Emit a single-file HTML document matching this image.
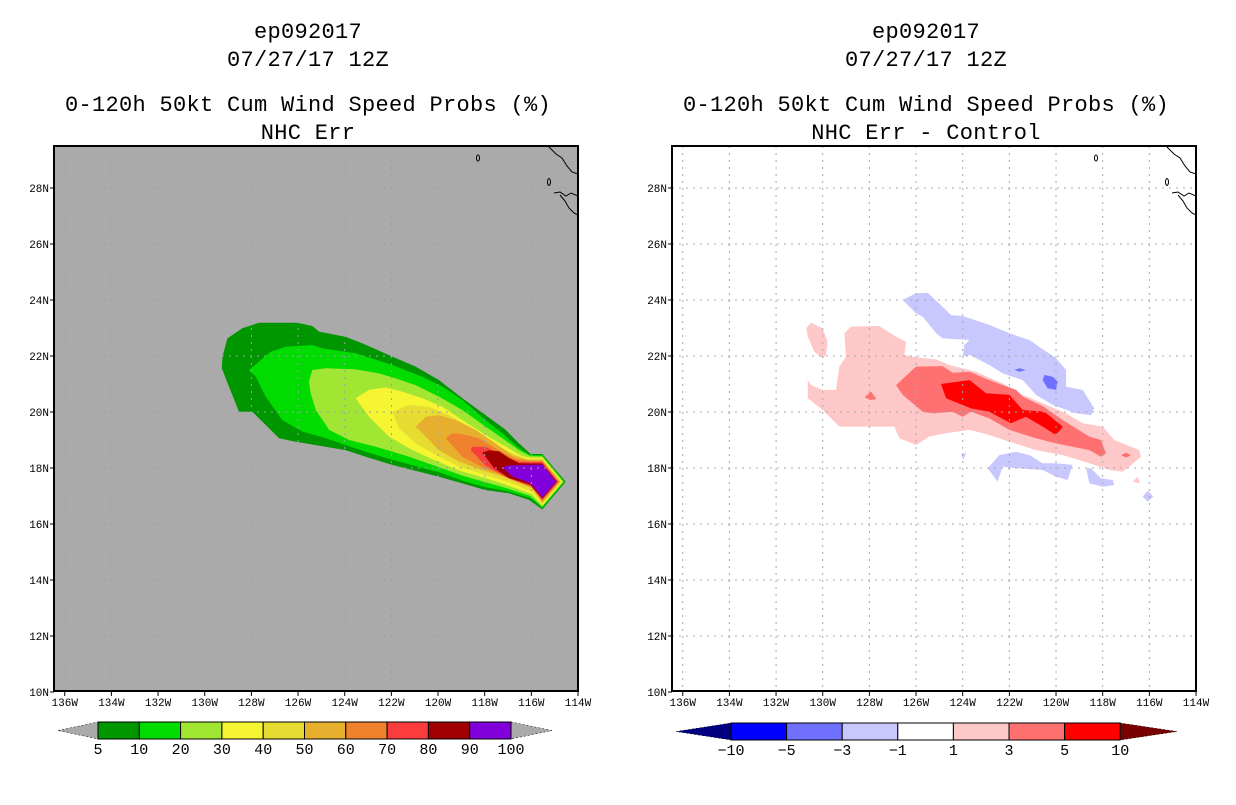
<!DOCTYPE html>
<html><head><meta charset="utf-8"><style>
body{margin:0;background:#fff;}
svg text{font-family:"Liberation Mono",monospace;}
</style></head><body>
<svg id="s" width="1236" height="800" viewBox="0 0 1236 800" xmlns="http://www.w3.org/2000/svg"></svg>
<script>
// ---- data ----
const lonTicks=[136,134,132,130,128,126,124,122,120,118,116,114];
const latTicks=[10,12,14,16,18,20,22,24,26,28];
const probLevels=[5,10,20,30,40,50,60,70,80,90,100];
const probColors=["#009600","#00dc00","#a0e632","#f5f532","#e6dc32","#e6af2d","#f0822d","#fa3c3c","#a00000","#8200dc"];
const diffLevels=[-10,-5,-3,-1,1,3,5,10];
const diffColors=["#000080","#0000ff","#7070ff","#c8c8ff","#ffffff","#ffc8c8","#ff7070","#ff0000","#780000"];
const p5=[[129.24,21.98],[129.03,22.63],[128.39,22.99],[127.67,23.19],[126.03,23.19],[125.39,23.07],[125.1,22.87],[123.96,22.69],[123.24,22.45],[121.96,21.98],[120.96,21.62],[119.96,21.14],[118.96,20.49],[117.96,19.89],[117.1,19.36],[116.53,18.88],[116.03,18.5],[115.53,18.5],[114.53,17.51],[115.53,16.52],[116.1,16.86],[116.96,17.1],[117.96,17.21],[118.96,17.45],[119.96,17.69],[121.96,18.11],[123.1,18.4],[123.96,18.64],[126.1,18.94],[126.81,19.06],[127.96,20.01],[128.53,20.01],[128.96,20.9],[129.27,21.56]];
const p10=[[128.1,21.5],[127.17,22.15],[126.53,22.33],[125.39,22.39],[124.96,22.27],[123.53,22.1],[121.96,21.68],[120.67,21.26],[119.81,20.9],[118.96,20.43],[117.96,19.71],[117.24,19.24],[116.6,18.76],[116.05,18.46],[115.53,18.46],[114.58,17.51],[115.53,16.57],[116.03,16.93],[117.1,17.19],[117.96,17.31],[118.96,17.55],[119.96,17.85],[121.96,18.29],[123.1,18.58],[123.96,18.82],[124.81,19.06],[125.81,19.3],[126.67,19.71],[127.39,20.55],[127.81,21.26]];
const p20=[[125.53,21.08],[125.39,21.5],[124.81,21.56],[123.53,21.52],[122.53,21.38],[121.81,21.2],[120.96,20.96],[119.96,20.55],[118.96,20.07],[117.96,19.48],[117.24,19.06],[116.53,18.64],[116.03,18.42],[115.53,18.42],[114.62,17.51],[115.53,16.62],[116.03,17.0],[117.1,17.29],[117.96,17.49],[118.96,17.73],[119.96,18.03],[121.24,18.4],[122.67,18.76],[123.81,19.0],[124.67,19.36],[125.24,20.07],[125.46,20.67]];
const p30=[[123.53,20.49],[122.96,20.79],[122.24,20.88],[121.53,20.73],[120.67,20.49],[119.81,20.19],[118.96,19.71],[117.96,19.18],[117.1,18.76],[116.39,18.42],[116.03,18.37],[115.53,18.37],[114.67,17.51],[115.53,16.66],[115.96,17.06],[117.1,17.41],[118.1,17.67],[119.1,17.91],[119.96,18.21],[121.1,18.64],[122.1,19.12],[122.96,19.83]];
const p40=[[121.96,20.01],[121.24,20.25],[120.39,20.19],[119.53,19.89],[118.67,19.48],[117.81,19.0],[116.96,18.58],[116.24,18.33],[115.53,18.33],[114.71,17.51],[115.53,16.71],[115.96,17.16],[117.1,17.53],[118.1,17.79],[119.1,18.05],[119.96,18.4],[120.96,18.88],[121.67,19.42]];
const p50=[[120.96,19.48],[120.53,19.83],[119.96,19.89],[119.24,19.71],[118.39,19.36],[117.53,18.88],[116.81,18.46],[116.17,18.29],[115.53,18.29],[114.76,17.51],[115.53,16.76],[115.96,17.27],[117.1,17.66],[118.1,17.93],[119.1,18.23],[119.96,18.64]];
const p60=[[119.67,19.06],[119.39,19.24],[118.96,19.21],[118.24,19.06],[117.39,18.64],[116.67,18.32],[116.1,18.25],[115.53,18.25],[114.81,17.51],[115.53,16.81],[116.03,17.38],[117.1,17.71],[118.1,18.03],[118.96,18.4]];
const p70=[[118.6,18.64],[118.53,18.76],[117.96,18.76],[117.24,18.46],[116.53,18.22],[115.53,18.21],[114.85,17.51],[115.53,16.86],[116.03,17.35],[117.0,17.64],[117.96,18.08]];
const p80=[[118.1,18.55],[117.81,18.63],[117.39,18.6],[116.96,18.36],[116.53,18.17],[115.53,18.16],[114.9,17.51],[115.53,16.9],[116.03,17.4],[116.95,17.64],[117.6,18.0]];
const p90=[[117.24,18.02],[116.9,18.1],[115.53,18.12],[114.94,17.51],[115.53,16.95],[116.03,17.45],[116.81,17.7]];
const probPolys=[p5,p10,p20,p30,p40,p50,p60,p70,p80,p90];
const dPink=[[130.64,21.14],[130.5,20.96],[130,20.79],[129.43,20.79],[129.29,21.62],[129,21.98],[129.07,22.81],[128.79,23.05],[127.57,23.07],[126.86,22.69],[126.43,22.51],[126.5,22.04],[126,21.95],[125.14,21.88],[124.57,21.68],[123.43,21.44],[122.29,21.02],[121.43,20.61],[120.57,20.31],[119.57,19.95],[118.86,19.6],[118,19.48],[117.5,19],[116.43,18.64],[116.36,18.4],[116.86,18.05],[117.14,17.87],[117.71,17.93],[118.57,18.17],[119.71,18.46],[120.86,18.64],[122,18.94],[122.86,19.18],[123.71,19.36],[124.71,19.24],[125.43,19.12],[126,18.82],[126.71,19.06],[126.93,19.48],[128.57,19.48],[129.29,19.48],[129.71,19.83],[130,20.07],[130.64,20.49]];
const dPinkB=[[130.71,22.99],[130.5,23.19],[130,22.99],[129.79,22.51],[129.86,22.04],[130,21.92],[130.36,22.15],[130.64,22.69]];
const dPinkC=[[116.71,17.51],[116.5,17.69],[116.4,17.45]];
const dMid=[[126.86,20.96],[126,21.62],[124.86,21.64],[124.43,21.4],[123.71,21.44],[122.86,21.14],[121.71,20.79],[121.43,20.55],[120.57,20.21],[119.71,19.71],[118.57,19.12],[118.07,19],[117.86,18.52],[118.07,18.4],[118.57,18.64],[120,18.88],[120.86,19.06],[122,19.36],[122.86,19.77],[123.64,20.01],[124,19.83],[124.43,20.01],[125.29,19.95],[125.71,20.01],[126.57,20.61]];
const dMidB=[[128.21,20.52],[127.93,20.73],[127.69,20.46],[127.93,20.43]];
const dMidC=[[117.21,18.46],[117,18.55],[116.79,18.46],[117,18.37]];
const dRed=[[124.93,21],[123.71,21.14],[123,20.67],[122,20.61],[121.43,20.07],[120.5,20.01],[119.71,19.48],[120,19.18],[120.57,19.48],[121.29,19.83],[121.93,19.6],[122.86,20.01],[123.64,20.13],[124,20.25],[124.71,20.49]];
const dBlue1=[[126.57,24],[126,24.24],[125.5,24.26],[124.71,23.64],[124.5,23.46],[124,23.43],[122.86,23.11],[122,22.81],[121.14,22.57],[120,21.92],[119.57,21.5],[119.57,20.9],[118.86,20.79],[118.36,20.13],[118.5,19.89],[119.14,19.95],[120.14,20.25],[120.86,20.61],[121.43,21.14],[122.29,21.38],[122.86,21.68],[123.29,21.86],[123.71,22.04],[124,21.98],[123.93,22.39],[123.71,22.57],[124.86,22.63],[125.14,22.81],[125.71,23.4],[126,23.52]];
const dBlue2=[[122.93,17.99],[122.43,18.46],[121.71,18.58],[121.14,18.46],[120.57,18.17],[120,18.17],[119.29,18.11],[119.5,17.57],[120,17.69],[120.57,17.93],[121.71,17.99],[122.29,18.05],[122.5,17.51]];
const dBlue3=[[118.71,17.99],[118.5,17.99],[118.07,17.63],[117.57,17.57],[117.5,17.39],[118,17.33],[118.57,17.45]];
const dBlue4=[[124.07,18.52],[123.86,18.52],[123.97,18.29]];
const dBlue5=[[116.29,16.98],[116.07,17.19],[115.83,16.98],[116.07,16.8]];
const dDark1=[[120.57,21.14],[120.5,21.32],[120.14,21.26],[119.93,21.08],[120,20.79],[120.36,20.85]];
const dDark2=[[121.79,21.5],[121.57,21.56],[121.29,21.5],[121.57,21.44]];
const diffPolys=[[dPink,5],[dPinkB,5],[dPinkC,5],[dMid,6],[dMidB,6],[dMidC,6],[dRed,7],[dBlue1,3],[dBlue2,3],[dBlue3,3],[dBlue4,3],[dBlue5,3],[dDark1,2],[dDark2,2]];

// ---- drawing ----
const S=document.getElementById('s');const NS="http://www.w3.org/2000/svg";
function mk(t,a,p){const e=document.createElementNS(NS,t);for(const k in a)e.setAttribute(k,a[k]);(p||S).appendChild(e);return e;}
const L=54,R=578,T=146,B=691;
function xs(lon,off){return off+578-(lon-114)*23.33;}
function ys(lat){return 412-(lat-20)*28;}
function panel(off,bg,name,t4,polyDraw,gridCol){
  const g=mk('g',{});
  
  
  const cx=off+L+(R-L)/2-8;
  const titles=["ep092017","07/27/17 12Z","0-120h 50kt Cum Wind Speed Probs (%)",t4];
  const ty=[38,66,111,139];
  titles.forEach((t,i)=>{const e=mk('text',{x:cx,y:ty[i],'text-anchor':'middle','font-size':22,'letter-spacing':0.3,fill:'#000'},g);e.textContent=t;
    
    });
  mk('rect',{x:off+L,y:T,width:R-L,height:B-T,fill:bg},g);
  const clip=mk('clipPath',{id:'c'+off},g);mk('rect',{x:off+L,y:T,width:R-L,height:B-T},clip);
  const pg=mk('g',{'clip-path':'url(#c'+off+')'},g);
  polyDraw(pg,off);
  lonTicks.forEach(l=>{const x=xs(l,off);if(x>off+L+1&&x<off+R-1)mk('line',{x1:x,x2:x,y1:T,y2:B,stroke:gridCol,'stroke-width':1,'stroke-dasharray':'2,5'},pg);});
  latTicks.forEach(l=>{const y=ys(l);if(y>T+1&&y<B-1)mk('line',{x1:off+L,x2:off+R,y1:y,y2:y,stroke:gridCol,'stroke-width':1,'stroke-dasharray':'2,5'},pg);});
  const cl=[[[off+549,147],[off+556,154],[off+562,158],[off+567,166],[off+572,172],[off+578,174]],[[off+554,193],[off+560,192],[off+566,196],[off+571,193],[off+578,196]],[[off+560,195],[off+565,201],[off+569,208],[off+574,213],[off+578,215]]];
  cl.forEach(c=>{const e=mk('polyline',{points:c.map(p=>p.join(',')).join(' '),fill:'none',stroke:'#000','stroke-width':1},pg);
    
    });
  mk('ellipse',{cx:off+478,cy:158,rx:1.5,ry:3,fill:'none',stroke:'#000','stroke-width':1},pg);
  mk('ellipse',{cx:off+549,cy:182,rx:1.5,ry:3.5,fill:'none',stroke:'#000','stroke-width':1},pg);
  mk('rect',{x:off+L,y:T,width:R-L,height:B-T,fill:'none',stroke:'#000','stroke-width':2},g);
  lonTicks.forEach(l=>{const x=xs(l,off);mk('line',{x1:x,x2:x,y1:B,y2:B+5,stroke:'#000'},g);
    const e=mk('text',{x:x,y:B+15,'text-anchor':'middle','font-size':11,fill:'#000','font-family':'Liberation Sans'},g);e.textContent=l+'W';
    
    });
  latTicks.forEach(l=>{const y=ys(l);mk('line',{x1:off+L-4,x2:off+L,y1:y,y2:y,stroke:'#000'},g);
    const e=mk('text',{x:off+L-5,y:y+4,'text-anchor':'end','font-size':11,fill:'#000','font-family':'Liberation Sans'},g);e.textContent=l+'N';
    
    });
  return g;
}
function pts(poly,off){return poly.map(p=>xs(p[0],off).toFixed(1)+','+ys(p[1]).toFixed(1)).join(' ');}
panel(0,'#aaaaaa','left-panel','NHC Err',(pg,off)=>{
  probPolys.forEach((p,i)=>{const e=mk('polygon',{points:pts(p,off),fill:probColors[i]},pg);
    
    });
},'#9aa0b4');
panel(618,'#ffffff','right-panel','NHC Err - Control',(pg,off)=>{
  diffPolys.forEach(d=>{const e=mk('polygon',{points:pts(d[0],off),fill:diffColors[d[1]]},pg);
    
    });
},'#a8a8a8');
function cbar(x0,w,tipL,tipR,y0,y1,cols,labels,tl,tr,name){
  const g=mk('g',{});
  
  
  const ym=(y0+y1)/2;
  mk('polygon',{points:`${tipL},${ym} ${x0},${y0} ${x0},${y1}`,fill:tl,stroke:'#000','stroke-width':0.5,'stroke-dasharray':'2,2'},g);
  const xe=x0+w*cols.length;
  mk('polygon',{points:`${tipR},${ym} ${xe},${y0} ${xe},${y1}`,fill:tr,stroke:'#000','stroke-width':0.5,'stroke-dasharray':'2,2'},g);
  cols.forEach((c,i)=>{const e=mk('rect',{x:x0+i*w,y:y0,width:w,height:y1-y0,fill:c,stroke:'#000','stroke-width':1},g);
    
    });
  labels.forEach((l,i)=>{const e=mk('text',{x:x0+i*w,y:y1+15,'text-anchor':'middle','font-size':15,fill:'#000','font-family':'Liberation Sans'},g);e.textContent=String(l).replace('-','\u2212');
    
    });
}
cbar(98,41.3,58,552,722,739,probColors,probLevels,'#aaaaaa','#aaaaaa','prob-colorbar');
cbar(731,55.6,676,1177,723,740,diffColors.slice(1,8),diffLevels,diffColors[0],diffColors[8],'diff-colorbar');
</script>
</body></html>
